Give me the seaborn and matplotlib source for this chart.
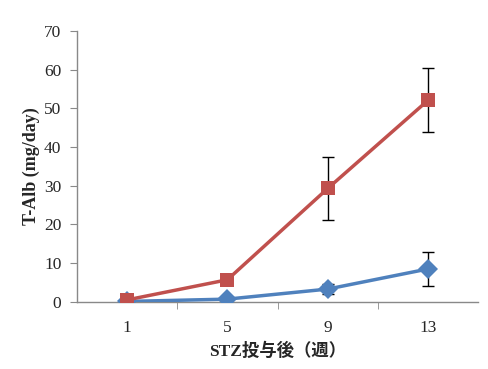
import numpy as np
import pandas as pd
import seaborn as sns
import matplotlib.pyplot as plt

weeks = ['1', '5', '9', '13']
red_vals = [0.5, 5.7, 29.3, 52.1]
red_err = [0.0, 0.0, 8.1, 8.3]
blue_vals = [0.1, 0.7, 3.3, 8.5]
blue_err = [0.0, 0.0, 1.3, 4.5]

RED = '#C0504D'
BLUE = '#4F81BD'
GRAY = '#898989'

sns.set_style('white')
plt.rcParams['font.family'] = ['Liberation Serif', 'Noto Sans CJK JP']

fig = plt.figure(figsize=(4.89, 3.69), dpi=100)
ax = fig.add_axes([0.157, 0.182, 0.821, 0.734])

pos = np.arange(len(weeks))
df = pd.DataFrame({'x': np.concatenate([pos, pos]),
                   'y': blue_vals + red_vals,
                   'g': ['blue'] * 4 + ['red'] * 4})

ax.errorbar(pos, red_vals, yerr=red_err, fmt='none', ecolor='black',
            elinewidth=1, capsize=4, capthick=1, zorder=1)
ax.errorbar(pos, blue_vals, yerr=blue_err, fmt='none', ecolor='black',
            elinewidth=1, capsize=4, capthick=1, zorder=1)

sns.lineplot(data=df, x='x', y='y', hue='g', style='g',
             palette={'blue': BLUE, 'red': RED},
             markers={'blue': 'D', 'red': 's'}, dashes=False,
             linewidth=2.5, markersize=10, markeredgewidth=0,
             legend=False, ax=ax, zorder=3)

ax.set_xlim(-0.5, 3.5)
ax.set_ylim(0, 70)
ax.set_yticks(range(0, 71, 10))
ax.set_xticks(pos)
ax.set_xticklabels(weeks, fontsize=12.5)
ax.set_xticks(pos[:-1] + 0.5, minor=True)
ax.tick_params(axis='x', which='major', length=0, pad=13)
ax.tick_params(axis='x', which='minor', length=5, color=GRAY, direction='out',
               bottom=True)
ax.tick_params(axis='y', length=5, color=GRAY, direction='out', left=True,
               labelsize=12.5, pad=6)

for s in ['top', 'right']:
    ax.spines[s].set_visible(False)
for s in ['left', 'bottom']:
    ax.spines[s].set_color(GRAY)
    ax.spines[s].set_linewidth(1)

ax.set_xlabel('STZ投与後（週）', fontsize=12.5, fontweight='bold', labelpad=5)
ax.set_ylabel('T-Alb (mg/day)', fontsize=13, fontweight='bold', labelpad=3)

fig.savefig('out.png', dpi=100)
